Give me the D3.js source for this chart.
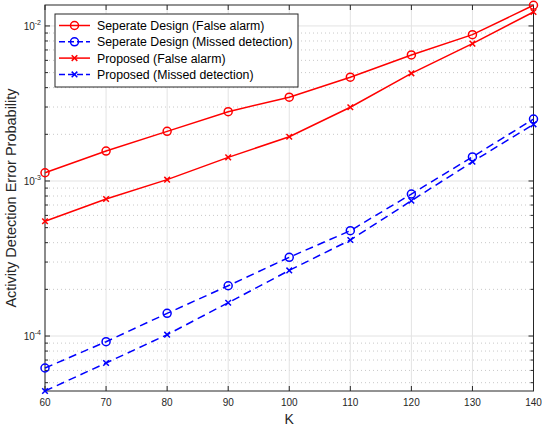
<!DOCTYPE html>
<html><head><meta charset="utf-8">
<script src="https://cdn.jsdelivr.net/npm/d3@7"></script>
<style>body{margin:0;background:#fff}svg{display:block}text{font-family:"Liberation Sans",Arial,sans-serif}</style>
</head><body><svg id="c" width="542" height="426"></svg>
<script>
const K = [60,70,80,90,100,110,120,130,140];
const sepFA = [1.13e-3,1.56e-3,2.09e-3,2.80e-3,3.47e-3,4.67e-3,6.50e-3,8.79e-3,1.36e-2];
const sepMD = [6.22e-5,9.19e-5,1.40e-4,2.11e-4,3.22e-4,4.78e-4,8.24e-4,1.43e-3,2.51e-3];
const propFA = [5.50e-4,7.65e-4,1.02e-3,1.42e-3,1.93e-3,2.99e-3,4.95e-3,7.69e-3,1.23e-2];
const propMD = [4.42e-5,6.70e-5,1.02e-4,1.64e-4,2.65e-4,4.16e-4,7.46e-4,1.33e-3,2.32e-3];
const xTicks = [60,70,80,90,100,110,120,130,140];
const yMajor = [1e-4,1e-3,1e-2];
const yExp = ["-4","-3","-2"];
const seriesNames = ["Seperate Design (False alarm)","Seperate Design (Missed detection)","Proposed (False alarm)","Proposed (Missed detection)"];

const series = [
  {name:seriesNames[0], vals:sepFA, color:"#ff0000", dash:null, marker:"o"},
  {name:seriesNames[1], vals:sepMD, color:"#0000ff", dash:"8,5", marker:"o"},
  {name:seriesNames[2], vals:propFA, color:"#ff0000", dash:null, marker:"x"},
  {name:seriesNames[3], vals:propMD, color:"#0000ff", dash:"8,5", marker:"x"}
];

const L=45, R=533.5, T=5, B=391;
const svg = d3.select("#c");
const x = d3.scaleLinear().domain([60,140]).range([L,R]);
const y = d3.scaleLog().domain([4.42e-5,1.365e-2]).range([B,T]);

const minors=[];
[1e-5,1e-4,1e-3,1e-2].forEach(d=>{for(let m=2;m<=9;m++){const v=m*d; if(v>=y.domain()[0]&&v<=y.domain()[1]) minors.push(v);}});

const g = svg.append("g");
g.selectAll(".mg").data(minors).enter().append("line")
 .attr("x1",L).attr("x2",R).attr("y1",d=>y(d)).attr("y2",d=>y(d))
 .attr("stroke","#c8c8c8").attr("stroke-width",1).attr("stroke-dasharray","1,3");
g.selectAll(".yg").data(yMajor).enter().append("line")
 .attr("x1",L).attr("x2",R).attr("y1",d=>y(d)).attr("y2",d=>y(d))
 .attr("stroke","#e3e3e3").attr("stroke-width",1);
g.selectAll(".xg").data(xTicks).enter().append("line")
 .attr("y1",T).attr("y2",B).attr("x1",d=>x(d)).attr("x2",d=>x(d))
 .attr("stroke","#e3e3e3").attr("stroke-width",1);

svg.append("rect").attr("x",L).attr("y",T).attr("width",R-L).attr("height",B-T)
 .attr("fill","none").attr("stroke","#262626").attr("stroke-width",1);

const tk = svg.append("g").attr("stroke","#262626").attr("stroke-width",1);
xTicks.forEach(d=>{
  tk.append("line").attr("x1",x(d)).attr("x2",x(d)).attr("y1",B).attr("y2",B-5);
  tk.append("line").attr("x1",x(d)).attr("x2",x(d)).attr("y1",T).attr("y2",T+5);
});
yMajor.forEach(d=>{
  tk.append("line").attr("x1",L).attr("x2",L+5).attr("y1",y(d)).attr("y2",y(d));
  tk.append("line").attr("x1",R).attr("x2",R-5).attr("y1",y(d)).attr("y2",y(d));
});
minors.forEach(d=>{
  tk.append("line").attr("x1",L).attr("x2",L+3).attr("y1",y(d)).attr("y2",y(d));
  tk.append("line").attr("x1",R).attr("x2",R-3).attr("y1",y(d)).attr("y2",y(d));
});

svg.selectAll(".xl").data(xTicks).enter().append("text")
 .attr("x",d=>x(d)).attr("y",B+15).attr("text-anchor","middle")
 .attr("font-size","10px").attr("fill","#262626").text(d=>d);
yMajor.forEach((d,i)=>{
  const t = svg.append("text").attr("x",L-4).attr("y",y(d)+4).attr("text-anchor","end")
   .attr("font-size","10px").attr("fill","#262626");
  t.append("tspan").text("10");
  t.append("tspan").attr("dy",-5).attr("font-size","7px").text(yExp[i]);
});
svg.append("text").attr("x",(L+R)/2).attr("y",424).attr("text-anchor","middle")
 .attr("font-size","14px").attr("fill","#262626").text("K");
svg.append("text").attr("transform",`translate(16,${(T+B)/2}) rotate(-90)`).attr("text-anchor","middle")
 .attr("font-size","14.5px").attr("fill","#262626").text("Activity Detection Error Probability");

const line = d3.line().x((d,i)=>x(K[i])).y(d=>y(d));
function marker(sel, type, color, cx, cy){
  if(type==="o"){
    sel.append("circle").attr("cx",cx).attr("cy",cy).attr("r",4).attr("fill","none")
      .attr("stroke",color).attr("stroke-width",1.5);
  } else {
    const s=2.8;
    sel.append("path").attr("d",`M${cx-s},${cy-s}L${cx+s},${cy+s}M${cx-s},${cy+s}L${cx+s},${cy-s}`)
      .attr("stroke",color).attr("stroke-width",1.5).attr("fill","none");
  }
}
series.forEach(s=>{
  const gg = svg.append("g");
  gg.append("path").datum(s.vals).attr("d",line).attr("fill","none")
   .attr("stroke",s.color).attr("stroke-width",1.5).attr("stroke-dasharray",s.dash);
  s.vals.forEach((v,i)=>marker(gg,s.marker,s.color,x(K[i]),y(v)));
});

const lg = svg.append("g");
const lx=55, ly=14, lw=243, lh=73;
lg.append("rect").attr("x",lx).attr("y",ly).attr("width",lw).attr("height",lh)
 .attr("fill","#fff").attr("stroke","#262626").attr("stroke-width",1);
series.forEach((s,i)=>{
  const cy = ly+11.5+i*16.3;
  lg.append("line").attr("x1",lx+4).attr("x2",lx+35).attr("y1",cy).attr("y2",cy)
    .attr("stroke",s.color).attr("stroke-width",1.5).attr("stroke-dasharray",s.dash?"6,3":null);
  marker(lg,s.marker,s.color,lx+19.5,cy);
  lg.append("text").attr("x",lx+42).attr("y",cy+4.5).attr("font-size","12.3px").attr("fill","#000").text(s.name);
});
</script></body></html>
